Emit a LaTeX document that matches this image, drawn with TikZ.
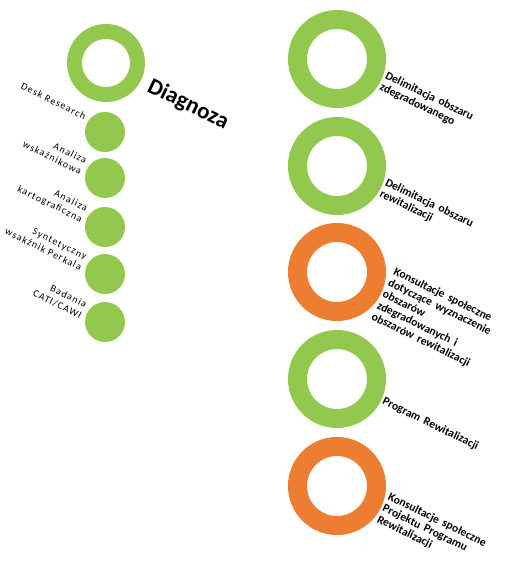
\documentclass[tikz,border=0pt]{standalone}
\usepackage{fontspec}
\setmainfont{Carlito}
\newfontfamily\spacedfont[LetterSpace=11]{Carlito}
\newcommand\rightlblfont{\bfseries\fontsize{11.6}{12.6}\selectfont\spaceskip=4.5pt plus 1pt\relax}
\definecolor{ringgreen}{HTML}{93C84F}
\definecolor{ringorange}{HTML}{ED7D31}
\begin{document}
\begin{tikzpicture}
		[x=1pt,y=-1pt,
		bigring/.style={circle,draw=ringgreen,line width=15pt,minimum size=63pt,inner sep=0pt},
		ring/.style={circle,line width=19pt,minimum size=79pt,inner sep=0pt},
		smalldot/.style={circle,fill=ringgreen,minimum size=40pt,inner sep=0pt},
		leftlbl/.style={rotate=-26,anchor=east,align=right,inner sep=0pt,font=\spacedfont\fontsize{10}{12}\selectfont},
		rightlbl/.style={rotate=-26,anchor=west,align=left,inner sep=0pt,font=\rightlblfont},]
		\useasboundingbox (0,0) rectangle (507,575);
		% left column
		\node[bigring,name=diag] at (106,63) {};
		\node[rotate=-26,anchor=base west,inner sep=0pt,font=\bfseries\fontsize{23}{26}\selectfont] at (146,91) {Diagnoza};
		\foreach \i/\y/\s/\txt in {1/132/14/{Desk Research},2/178/10/{Analiza\\wskaźnikowa},3/227/11/{Analiza\\kartograficzna},4/274/10/{Syntetyczny\\wsakźnik Perkala},5/322/10/{Badania\\CATI/CAWI}}
		{
			\node[smalldot,name=d\i] at (105,\y) {};
			\node[leftlbl,xshift=-6pt,yshift=\s pt] at (d\i.west) {\txt};
		}
		% right column
		\foreach \i/\y/\c/\txt in {1/59/ringgreen/{Delimitacja obszaru\\zdegradowanego},2/166/ringgreen/{Delimitacja obszaru\\rewitalizacji},3/272/ringorange/{Konsultacje społeczne\\dotyczące wyznaczenie\\obszarów\\zdegradowanych i\\obszarów rewitalizacji},4/379/ringgreen/{Program Rewitalizacji},5/486/ringorange/{Konsultacje społeczne\\Projektu Programu\\Rewitalizacji}}
		{
			\node[ring,draw=\c,name=r\i] at (337,\y) {};
			\node[rightlbl,xshift=7pt,yshift=-21pt] at (r\i.east) {\txt};
		}
	\end{tikzpicture}
\end{document}
